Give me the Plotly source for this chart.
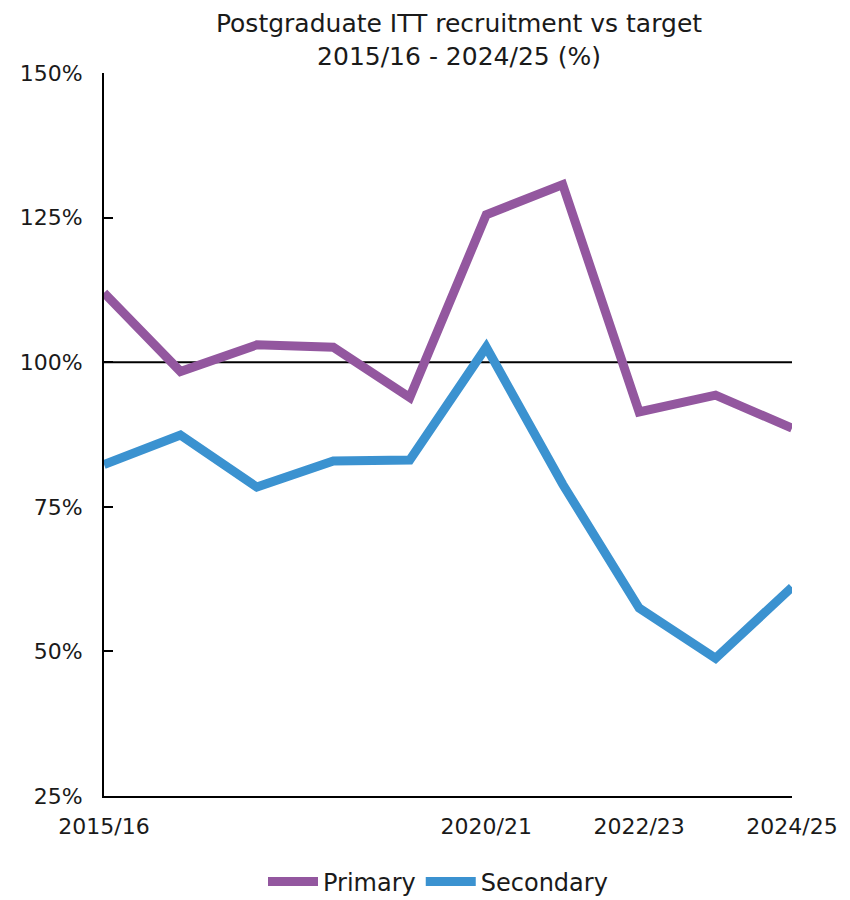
import plotly.graph_objects as go

years = ["2015/16", "2016/17", "2017/18", "2018/19", "2019/20",
         "2020/21", "2021/22", "2022/23", "2023/24", "2024/25"]
primary = [112.0, 98.4, 103.0, 102.6, 93.9, 125.5, 130.7, 91.4, 94.3, 88.6]
secondary = [82.3, 87.4, 78.4, 82.9, 83.1, 102.6, 78.9, 57.5, 48.8, 61.1]
x_tick_labels = ["2015/16", "2020/21", "2022/23", "2024/25"]
y_ticks = [25, 50, 75, 100, 125, 150]
target = 100

FONT = "DejaVu Sans"

fig = go.Figure()
fig.add_trace(go.Scatter(x=years, y=primary, mode="lines", name="Primary",
                         line=dict(color="#93579F", width=9)))
fig.add_trace(go.Scatter(x=years, y=secondary, mode="lines", name="Secondary",
                         line=dict(color="#3B92D0", width=9)))

fig.add_shape(type="line", xref="paper", x0=0, x1=1, yref="y", y0=target, y1=target,
              line=dict(color="black", width=2), layer="below")

fig.update_layout(
    width=842, height=892,
    paper_bgcolor="white", plot_bgcolor="white",
    margin=dict(l=95, r=56, t=65, b=104),
    font=dict(family=FONT, size=22, color="#1a1a1a"),
    title=dict(text="Postgraduate ITT recruitment vs target<br>2015/16 - 2024/25 (%)",
               x=451 / 842, xanchor="center", xref="container",
               y=1 - 24 / 892, yanchor="top", yref="container",
               font=dict(family=FONT, size=25, color="#1a1a1a")),
    showlegend=True,
    legend=dict(orientation="h", x=430 / 842, xanchor="center", xref="container",
                y=18 / 892, yanchor="middle", yref="container",
                font=dict(family=FONT, size=24, color="#1a1a1a"),
                itemwidth=50),
    xaxis=dict(type="category", categoryorder="array", categoryarray=years,
               range=[0, 9], tickmode="array", tickvals=x_tick_labels,
               ticktext=x_tick_labels, showgrid=False, zeroline=False,
               showline=True, linecolor="black", linewidth=2, ticks="",
               ticklabelstandoff=10),
    yaxis=dict(range=[25, 150], tickmode="array", tickvals=y_ticks,
               ticktext=[f"{v}%" for v in y_ticks], showgrid=False, zeroline=False,
               showline=True, linecolor="black", linewidth=2,
               ticks="inside", ticklen=9, tickwidth=2, tickcolor="black",
               ticklabelstandoff=15),
)

fig.write_html("out.html")
